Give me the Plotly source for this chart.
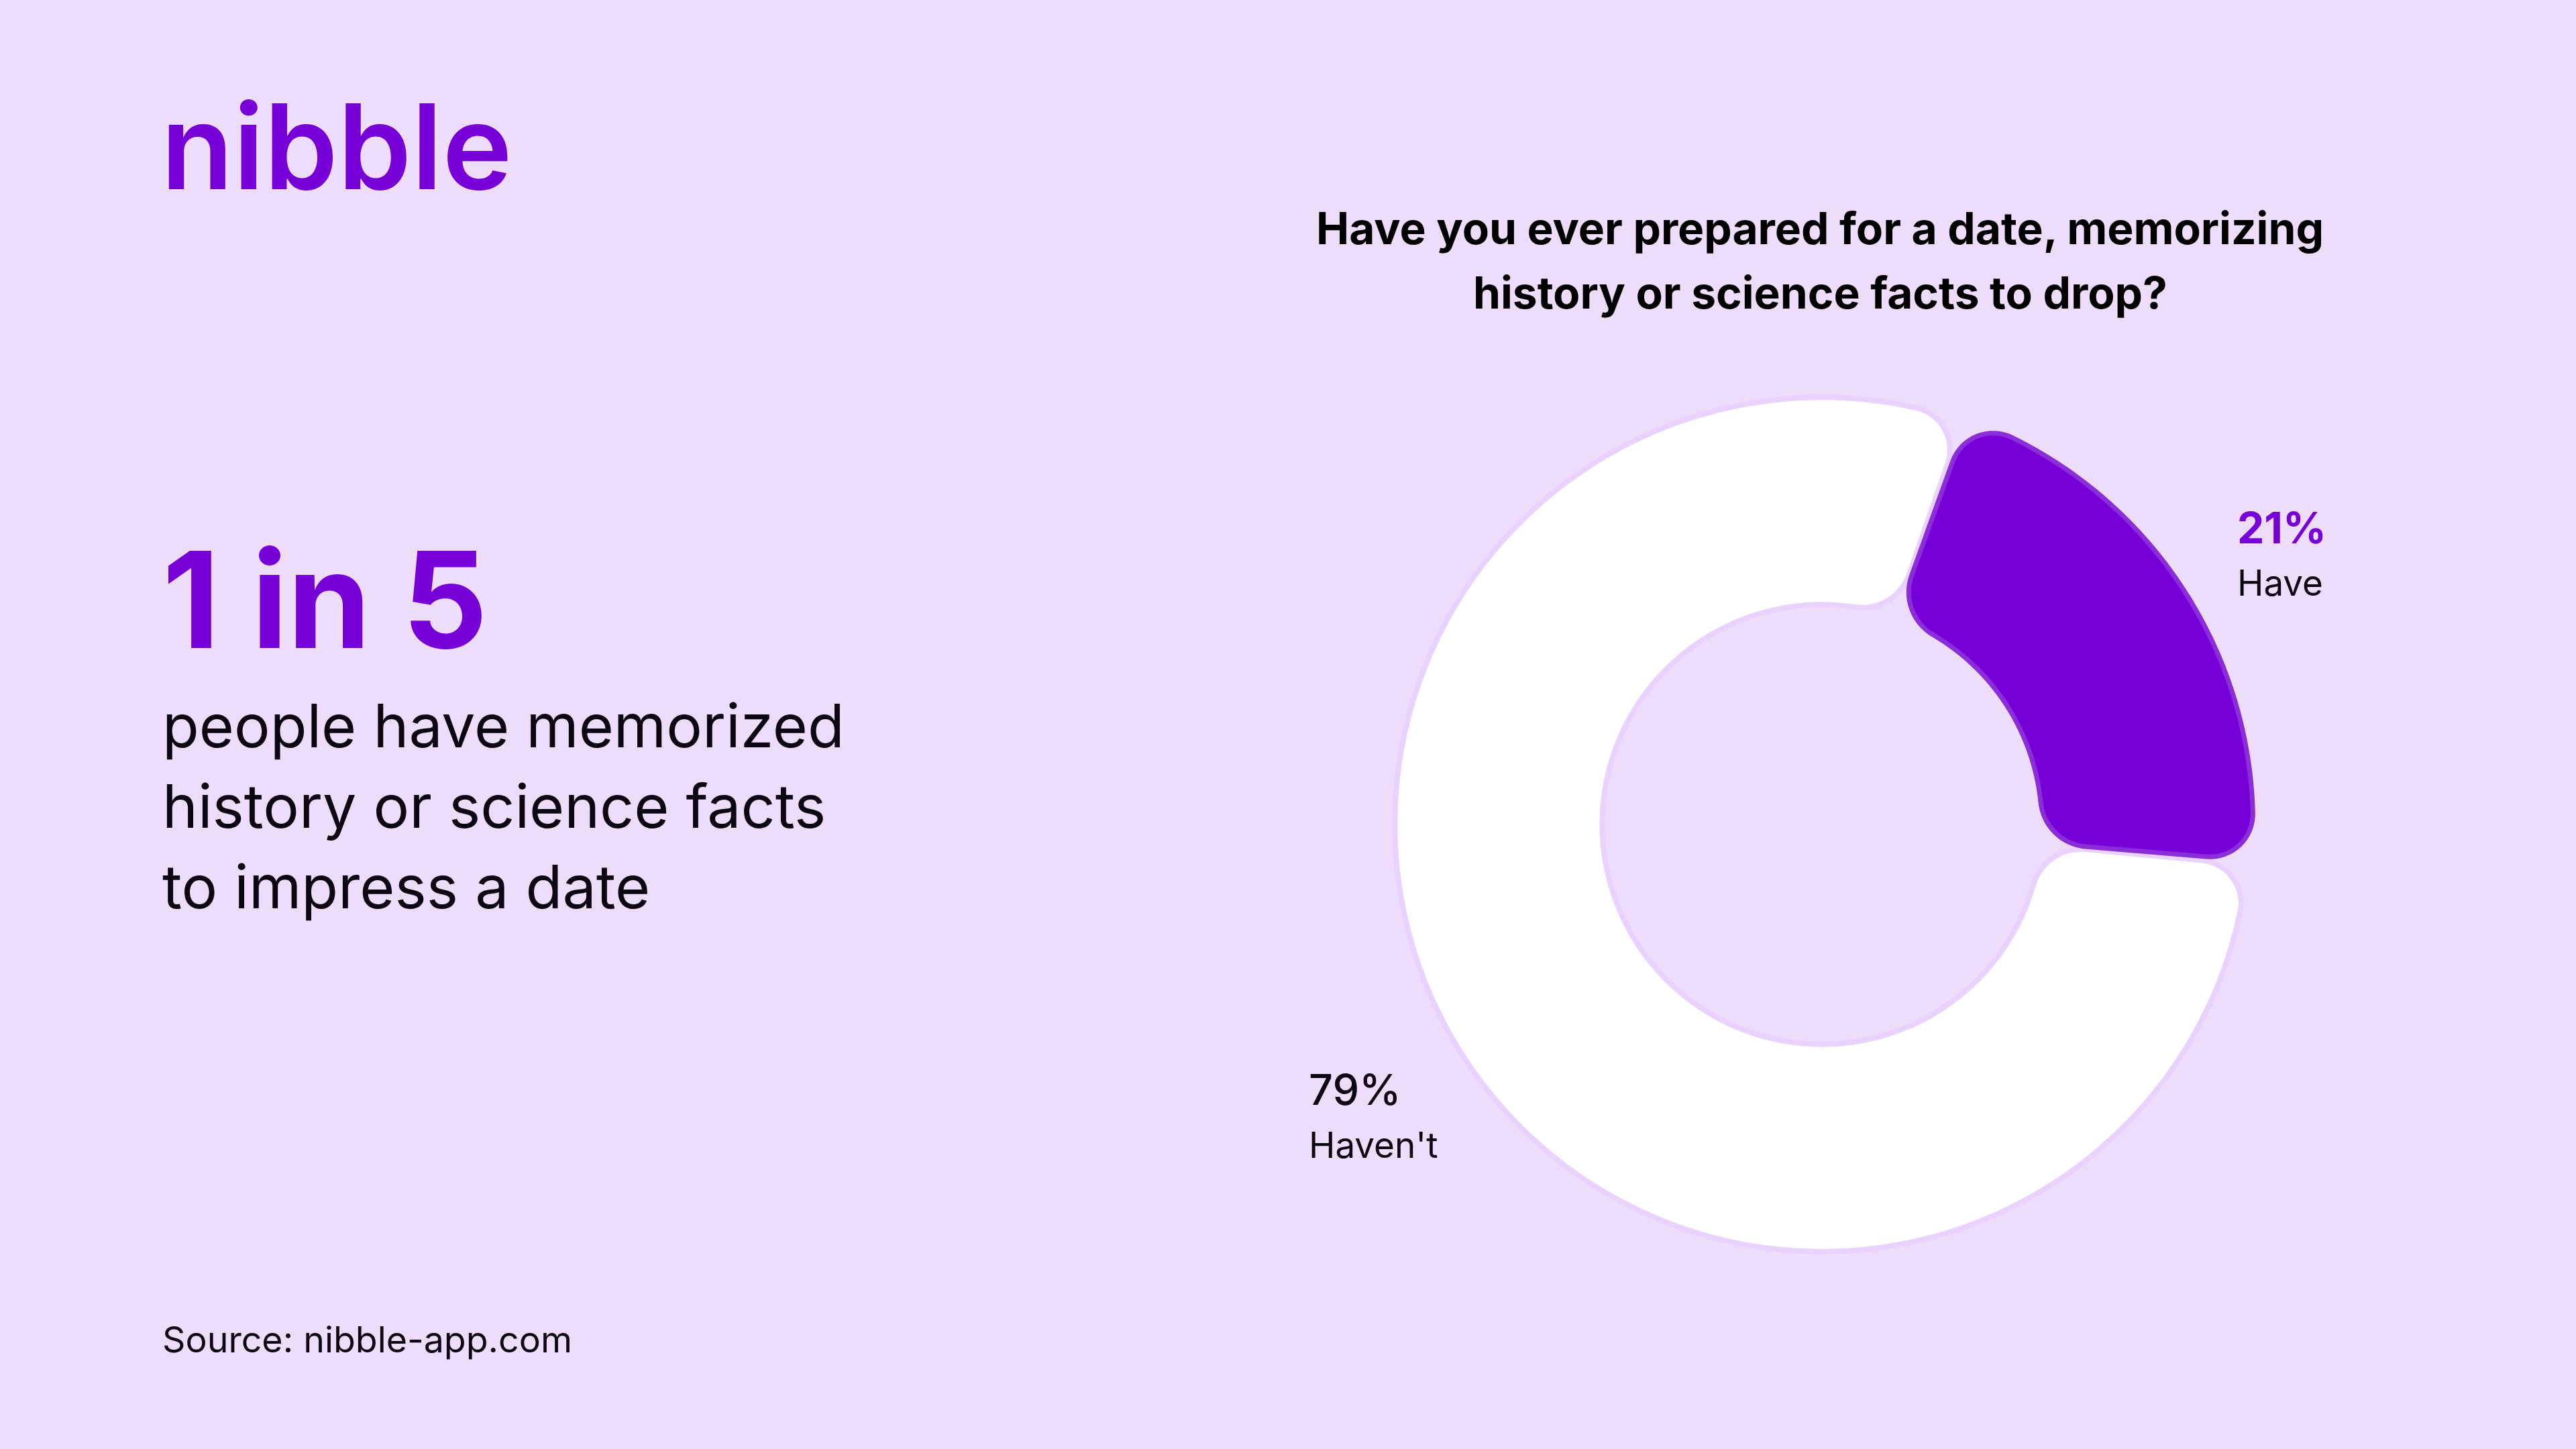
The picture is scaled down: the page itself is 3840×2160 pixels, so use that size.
import math
import plotly.graph_objects as go

# chart data
categories = ["Have", "Haven't"]
shares = [21, 79]

bg = "#EDDCFA"
purple = "#7700D9"
ink = "#0B0612"

W, H = 3840, 2160
cx, cy, radius = 2716, 1229, 659   # donut centre and polar domain half size, px
r_in = 0.512
corner_out, corner_in = 0.1, 0.115
start_angle = 19.5
gap = 0.3   # degrees left free either side of a slice


def rounded_sector(a0, a1, r_out):
    '''Ring sector from a0 to a1 (deg clockwise from top) with rounded corners.
    Returns r and theta lists for scatterpolar.'''
    def xy(r, a):
        return r * math.sin(math.radians(a)), r * math.cos(math.radians(a))

    def fillet(c, rad, p, q):
        # short arc from p to q round centre c
        t0 = math.atan2(p[1] - c[1], p[0] - c[0])
        t1 = math.atan2(q[1] - c[1], q[0] - c[0])
        d = (t1 - t0 + math.pi) % (2 * math.pi) - math.pi
        return [(c[0] + rad * math.cos(t0 + d * i / 16),
                 c[1] + rad * math.sin(t0 + d * i / 16)) for i in range(17)]

    rc_o = r_out - corner_out
    rc_i = r_in + corner_in
    da_o = math.degrees(math.asin(corner_out / rc_o))
    da_i = math.degrees(math.asin(corner_in / rc_i))
    e_o = math.sqrt(rc_o ** 2 - corner_out ** 2)
    e_i = math.sqrt(rc_i ** 2 - corner_in ** 2)

    pts = []
    pts += fillet(xy(rc_o, a0 + da_o), corner_out, xy(e_o, a0), xy(r_out, a0 + da_o))
    n = 120
    pts += [xy(r_out, a0 + da_o + (a1 - a0 - 2 * da_o) * i / n) for i in range(n + 1)]
    pts += fillet(xy(rc_o, a1 - da_o), corner_out, xy(r_out, a1 - da_o), xy(e_o, a1))
    pts += fillet(xy(rc_i, a1 - da_i), corner_in, xy(e_i, a1), xy(r_in, a1 - da_i))
    pts += [xy(r_in, a1 - da_i - (a1 - a0 - 2 * da_i) * i / n) for i in range(n + 1)]
    pts += fillet(xy(rc_i, a0 + da_i), corner_in, xy(r_in, a0 + da_i), xy(e_i, a0))
    pts.append(pts[0])
    return ([math.hypot(x, y) for x, y in pts],
            [math.degrees(math.atan2(x, y)) for x, y in pts])


fig = go.Figure()

styles = {"Have": (purple, "#8B2DD8", 7, 1.004), "Haven't": ("#FFFFFF", "#E9D2FD", 8, 0.995)}
angle = start_angle
slices = []
for cat, share in zip(categories, shares):
    sweep = share / sum(shares) * 360
    slices.append((cat, angle, angle + sweep))
    angle += sweep

# white slice goes underneath
for cat, a0, a1 in reversed(slices):
    fill, edge, edge_w, r_out = styles[cat]
    rr, tt = rounded_sector(a0 + gap, a1 - gap, r_out)
    fig.add_trace(go.Scatterpolar(
        r=rr, theta=tt, mode="lines", fill="toself", fillcolor=fill,
        line=dict(color=edge, width=edge_w), name=cat, showlegend=False,
        hoverinfo="name"))


def label(text, x, y, size, color=ink, weight=400, anchor="left"):
    fig.add_annotation(
        text=text, x=x / W, y=1 - y / H, xref="paper", yref="paper",
        xanchor=anchor, yanchor="middle", showarrow=False,
        font=dict(family="Inter", size=size, color=color, weight=weight))


label("nibble", 238, 217, 176, purple, 600)
label("1 in 5", 240, 894, 199, purple, 700)
label("people have memorized", 240, 1081, 89.5)
label("history or science facts", 240, 1201, 89.5)
label("to impress a date", 240, 1321, 89.5)
label("Have you ever prepared for a date, memorizing", 2713, 340, 65.8, "#000000", 700, "center")
label("history or science facts to drop?", 2713, 436, 65.8, "#000000", 700, "center")
label(f"{shares[0]}%", 3333, 786, 64, purple, 700)
label(categories[0], 3333, 869, 53)
label(f"{shares[1]}%", 1949, 1624, 63, ink, 500)
label(categories[1], 1949, 1707, 53)
label("Source: nibble-app.com", 240, 1996, 53.7)

fig.update_layout(
    width=W, height=H, autosize=False,
    margin=dict(l=0, r=0, t=0, b=0),
    paper_bgcolor=bg, plot_bgcolor=bg, showlegend=False,
    polar=dict(
        domain=dict(x=[(cx - radius) / W, (cx + radius) / W],
                    y=[1 - (cy + radius) / H, 1 - (cy - radius) / H]),
        bgcolor="rgba(0,0,0,0)",
        radialaxis=dict(range=[0, radius / 640], visible=False),
        angularaxis=dict(rotation=90, direction="clockwise", visible=False),
    ),
)

fig.write_html("out.html", config={"displayModeBar": False},
               post_script="document.body.style.margin='0';document.body.style.overflow='hidden';")
